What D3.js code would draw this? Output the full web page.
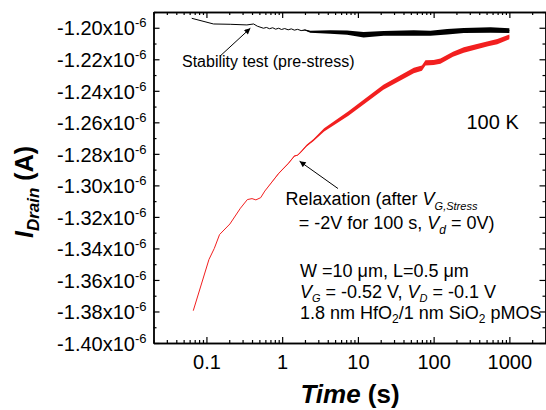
<!DOCTYPE html>
<html lang="en">
<head>
    <meta charset="utf-8">
    <script src="https://d3js.org/d3.v7.min.js"></script>
    <style>
        body { margin: 0; background: white; }
        svg { font-family: "Liberation Sans", Arial, sans-serif; }
    </style>
</head>
<body>
    <svg id="chart" width="546" height="410"></svg>

    <script>
    // time in s, current in units of 1e-6 A, band = half width of the noise
    const stabilityTime = [0.064, 0.124, 0.206, 0.342, 0.42, 0.47, 0.566, 0.62, 0.68, 0.75,
        0.82, 0.9, 0.98, 1.08, 1.2, 1.32, 1.45, 1.6, 1.78, 2.0,
        2.35, 4.3, 7.2, 11.9, 21.9, 54.7, 90.8, 151, 250, 565, 1000];
    const stabilityCurrent = [-1.1940, -1.1976, -1.1978, -1.1982, -1.1976, -1.1990, -1.2003, -1.1998, -1.2006, -1.2000,
        -1.2009, -1.2003, -1.2011, -1.2005, -1.2013, -1.2007, -1.2015, -1.2010, -1.2018, -1.2014,
        -1.2025, -1.2027, -1.2031, -1.2044, -1.2035, -1.2033, -1.2035, -1.2025, -1.2018, -1.2014, -1.2018];
    const stabilityBand = [0, 0, 0, 0, 0, 0, 0, 0, 0, 0,
        0, 0, 0, 0, 0, 0, 0, 0, 0, 0.0003,
        0.0006, 0.0011, 0.0014, 0.0017, 0.0015, 0.0017, 0.0016, 0.0017, 0.0016, 0.0017, 0.0015];

    const relaxTime = [0.067, 0.108, 0.127, 0.149, 0.204, 0.281, 0.347, 0.40, 0.45, 0.52,
        0.59, 0.9, 1.2, 1.45, 1.6, 1.75, 2.1, 2.6, 3.58, 7.5,
        21.7, 54.7, 70, 78, 100, 123, 180, 250, 523, 693, 1000];
    const relaxCurrent = [-1.3795, -1.3470, -1.3400, -1.3312, -1.3245, -1.3145, -1.3090, -1.3084, -1.3092, -1.3078,
        -1.3036, -1.2924, -1.2862, -1.2814, -1.2808, -1.2790, -1.2748, -1.2712, -1.2648, -1.2544,
        -1.2378, -1.2271, -1.2256, -1.2223, -1.2220, -1.2212, -1.2168, -1.2141, -1.2102, -1.2088, -1.2058];
    const relaxBand = [0, 0, 0, 0, 0, 0, 0, 0, 0, 0,
        0, 0.0002, 0.0002, 0.0003, 0.0003, 0.0004, 0.0005, 0.0007, 0.0010, 0.0014,
        0.0016, 0.0017, 0.0016, 0.0017, 0.0016, 0.0017, 0.0016, 0.0017, 0.0016, 0.0017, 0.0015];

    const xTicks = [0.1, 1, 10, 100, 1000];
    const yTicks = [-1.40, -1.38, -1.36, -1.34, -1.32, -1.30, -1.28, -1.26, -1.24, -1.22, -1.20];

    // arrows: [tail t, tail I, head t, head I]
    const arrows = [
        [0.152, -1.2179, 0.38, -1.2003],
        [5.46, -1.3020, 1.70, -1.2847]
    ];

    const svg = d3.select("#chart");
    const plotLeft = 153.5, plotRight = 545.5, plotTop = 12, plotBottom = 343;

    const x = d3.scaleLog().domain([0.02, 3000]).range([plotLeft, plotRight]);
    const y = d3.scaleLinear().domain([-1.40, -1.19]).range([plotBottom, plotTop]);

    // minor ticks
    const xMinor = [];
    for (let k = -2; k <= 3; k++) {
        for (let m = 2; m <= 9; m++) {
            const v = m * Math.pow(10, k);
            if (v >= 0.02 && v <= 3000) xMinor.push(v);
        }
    }
    const yMinor = yTicks.slice(0, -1).map(v => v + 0.01).concat([-1.19]);

    function pack(ts, is, bs) {
        return ts.map((t, k) => ({t: t, i: is[k], b: bs[k]}));
    }

    const line = d3.line().x(d => x(d.t)).y(d => y(d.i));
    const band = d3.area().x(d => x(d.t)).y0(d => y(d.i - d.b)).y1(d => y(d.i + d.b));

    const series = [
        {data: pack(stabilityTime, stabilityCurrent, stabilityBand), color: "#000000"},
        {data: pack(relaxTime, relaxCurrent, relaxBand), color: "#f21f1f"}
    ];

    series.forEach(s => {
        svg.append("path").datum(s.data)
            .attr("d", band)
            .attr("fill", s.color);
        svg.append("path").datum(s.data)
            .attr("d", line)
            .attr("fill", "none")
            .attr("stroke", s.color)
            .attr("stroke-width", 1);
    });

    // axes, ticks pointing inward
    function styleAxis(g) {
        g.selectAll("path.domain").attr("stroke-width", 1.4);
        g.selectAll(".tick line").attr("stroke-width", 1.2);
    }

    svg.append("g")
        .attr("transform", `translate(0,${plotBottom})`)
        .call(d3.axisBottom(x).tickValues(xMinor).tickSize(-3).tickFormat("").tickSizeOuter(0))
        .call(styleAxis);
    const xAxis = svg.append("g")
        .attr("transform", `translate(0,${plotBottom})`)
        .call(d3.axisBottom(x).tickValues(xTicks).tickSize(-6).tickPadding(12).tickSizeOuter(0)
            .tickFormat(d => String(d)))
        .call(styleAxis);
    xAxis.selectAll("text").attr("font-size", 20).attr("font-family", "Liberation Sans, Arial, sans-serif");

    svg.append("g")
        .attr("transform", `translate(0,${plotTop})`)
        .call(d3.axisTop(x).tickValues(xMinor).tickSize(-3).tickFormat("").tickSizeOuter(0))
        .call(styleAxis);
    svg.append("g")
        .attr("transform", `translate(0,${plotTop})`)
        .call(d3.axisTop(x).tickValues(xTicks).tickSize(-6).tickFormat("").tickSizeOuter(0))
        .call(styleAxis);

    svg.append("g")
        .attr("transform", `translate(${plotLeft},0)`)
        .call(d3.axisLeft(y).tickValues(yMinor).tickSize(-3).tickFormat("").tickSizeOuter(0))
        .call(styleAxis);
    const yAxis = svg.append("g")
        .attr("transform", `translate(${plotLeft},0)`)
        .call(d3.axisLeft(y).tickValues(yTicks).tickSize(-6).tickPadding(7).tickSizeOuter(0)
            .tickFormat(""))
        .call(styleAxis);

    svg.append("g")
        .attr("transform", `translate(${plotRight},0)`)
        .call(d3.axisRight(y).tickValues(yMinor).tickSize(-3).tickFormat("").tickSizeOuter(0))
        .call(styleAxis);
    svg.append("g")
        .attr("transform", `translate(${plotRight},0)`)
        .call(d3.axisRight(y).tickValues(yTicks).tickSize(-6).tickFormat("").tickSizeOuter(0))
        .call(styleAxis);

    // y tick labels with the x10^-6 superscript
    yAxis.selectAll(".tick").each(function(d) {
        const t = d3.select(this).select("text")
            .attr("font-size", 20)
            .attr("font-family", "Liberation Sans, Arial, sans-serif")
            .attr("dy", "0.36em");
        t.text(d.toFixed(2) + "x10");
        t.append("tspan").attr("font-size", 13).attr("dy", -8).text("-6");
    });

    // rich text helper: parts of {t, it, sub, size}
    function rich(xp, yp, size, parts, opts) {
        opts = opts || {};
        const txt = svg.append("text")
            .attr("x", xp).attr("y", yp)
            .attr("font-size", size)
            .attr("fill", "#000");
        if (opts.anchor) txt.attr("text-anchor", opts.anchor);
        if (opts.bold) txt.attr("font-weight", "bold");
        if (opts.transform) txt.attr("transform", opts.transform);
        let shift = 0;
        parts.forEach(p => {
            const ts = txt.append("tspan").text(p.t);
            if (p.it) ts.attr("font-style", "italic");
            if (p.size) ts.attr("font-size", p.size);
            const want = p.sub || 0;
            if (want !== shift) { ts.attr("dy", want - shift); shift = want; }
        });
        return txt;
    }

    rich(182, 67, 16, [{t: "Stability test (pre-stress)"}]);
    rich(466.5, 129, 20, [{t: "100 K"}]);

    rich(285.5, 205, 18, [
        {t: "Relaxation (after "}, {t: "V", it: true},
        {t: "G,Stress", it: true, sub: 5, size: 11}
    ]);
    rich(298.7, 229, 18, [
        {t: "= -2V for 100 s, "}, {t: "V", it: true},
        {t: "d", it: true, sub: 5, size: 12}, {t: " = 0V)"}
    ]);

    rich(300, 277, 18, [{t: "W =10 \u03bcm, L=0.5 \u03bcm"}]);
    rich(300, 298, 18, [
        {t: "V", it: true}, {t: "G", it: true, sub: 4, size: 11},
        {t: " = -0.52 V, "}, {t: "V", it: true}, {t: "D", it: true, sub: 4, size: 11},
        {t: " = -0.1 V"}
    ]);
    rich(300, 319, 18, [
        {t: "1.8 nm HfO"}, {t: "2", sub: 4, size: 12},
        {t: "/1 nm SiO"}, {t: "2", sub: 4, size: 12}, {t: " pMOS"}
    ]);

    // axis titles
    rich(350, 403, 26, [{t: "Time", it: true}, {t: " (s)"}], {anchor: "middle", bold: true});
    rich(0, 0, 25, [
        {t: "I", it: true}, {t: "Drain", it: true, sub: 6, size: 17}, {t: " (A)"}
    ], {anchor: "middle", bold: true, transform: "translate(33,192) rotate(-90)"});

    // arrows
    svg.append("defs").append("marker")
        .attr("id", "head")
        .attr("viewBox", "0 0 10 10")
        .attr("refX", 10).attr("refY", 5)
        .attr("markerWidth", 9).attr("markerHeight", 6)
        .attr("markerUnits", "userSpaceOnUse")
        .attr("orient", "auto")
        .append("path").attr("d", "M0,0 L10,5 L0,10 Z").attr("fill", "#000");

    arrows.forEach(a => {
        svg.append("line")
            .attr("x1", x(a[0])).attr("y1", y(a[1]))
            .attr("x2", x(a[2])).attr("y2", y(a[3]))
            .attr("stroke", "#000")
            .attr("stroke-width", 1)
            .attr("marker-end", "url(#head)");
    });
    </script>
</body>
</html>
